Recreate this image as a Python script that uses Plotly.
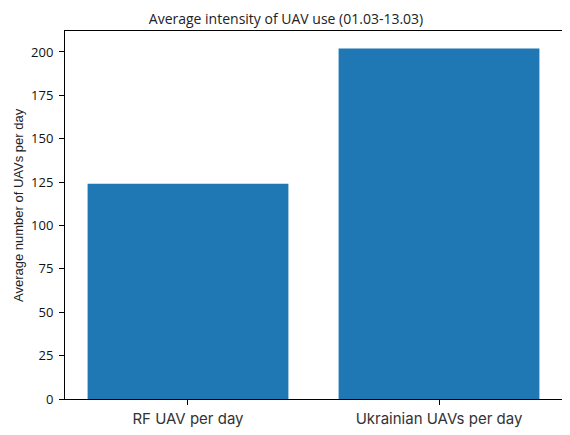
import plotly.graph_objects as go

categories = ["RF UAV per day", "Ukrainian UAVs per day"]
values = [124, 202]
yticks = [0, 25, 50, 75, 100, 125, 150, 175, 200]

# page body adds an 8px margin, so the figure is 8px smaller than the window
W, H = 562, 427
L, R, T, B = 57, 8, 23, 36

fig = go.Figure()
fig.add_trace(go.Bar(x=[0, 1], y=values, width=0.8, marker=dict(color="#1f77b4", line=dict(width=0))))

fig.update_layout(
    width=W, height=H,
    margin=dict(l=L, r=R, t=T, b=B, autoexpand=False),
    plot_bgcolor="white", paper_bgcolor="white",
    showlegend=False,
    title=dict(text="Average intensity of UAV use (01.03-13.03)", x=278 / W, xanchor="center",
               y=1 - 11 / H, yanchor="middle",
               font=dict(family="Open Sans", size=14, color="#222")),
)
fig.add_annotation(
    text="Average number of UAVs per day", textangle=-90,
    xref="paper", yref="paper", x=(10.5 - L) / (W - L - R), y=(H - B - 197.5) / (H - T - B),
    xanchor="center", yanchor="middle", showarrow=False,
    font=dict(family="Liberation Sans", size=13, color="#222"),
)
fig.update_xaxes(
    range=[-0.49, 1.49], tickmode="array", tickvals=[0, 1], ticktext=categories,
    showgrid=False, zeroline=False, showline=True, linecolor="black", linewidth=1, mirror=True,
    ticks="outside", ticklen=5, tickcolor="black", automargin=False, ticklabelstandoff=1,
    tickfont=dict(family="Inter", size=15, color="#333"),
)
fig.update_yaxes(
    range=[0, 212.1], tickmode="array", tickvals=yticks,
    showgrid=False, zeroline=False, showline=True, linecolor="black", linewidth=1, mirror=True,
    ticks="outside", ticklen=5, tickcolor="black", automargin=False, ticklabelstandoff=3,
    tickfont=dict(family="Open Sans", size=13, color="#111"),
)

fig.write_html("out.html")
